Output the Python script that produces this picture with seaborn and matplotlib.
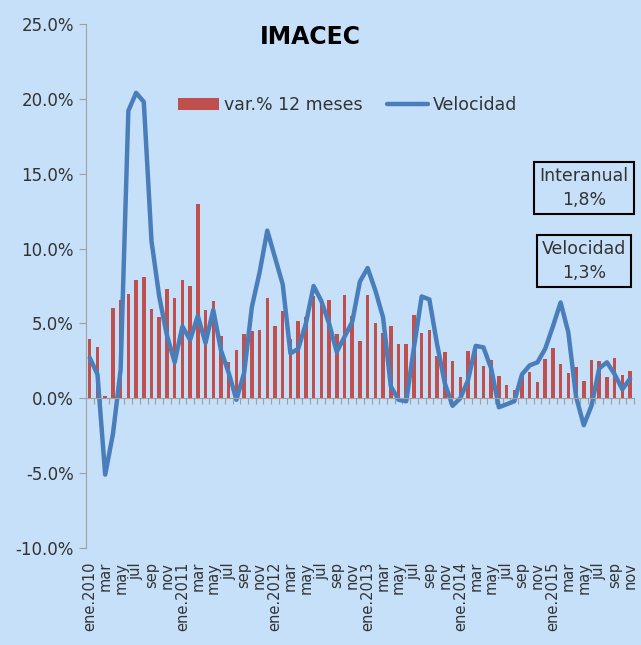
import numpy as np
import pandas as pd
import matplotlib
matplotlib.use('Agg')
import matplotlib.pyplot as plt
import seaborn as sns

# Meses (ene.2010 - nov.2015)
meses = ['ene', 'feb', 'mar', 'abr', 'may', 'jun', 'jul', 'ago', 'sep', 'oct', 'nov', 'dic']
anios = [2010, 2011, 2012, 2013, 2014, 2015]

# var.% 12 meses
var_12m = [3.93, 3.44, 0.13, 6.04, 6.58, 6.98, 7.93, 8.09, 5.98, 5.42, 7.33, 6.67,
           7.89, 7.47, 13.0, 5.91, 6.47, 4.13, 2.44, 3.24, 4.29, 4.47, 4.53, 6.67,
           4.82, 5.84, 3.93, 5.16, 5.42, 6.82, 6.31, 6.58, 4.27, 6.93, 5.49, 3.80,
           6.87, 5.02, 4.33, 4.82, 3.60, 3.60, 5.58, 4.33, 4.53, 2.82, 3.11, 2.49,
           1.40, 3.18, 3.27, 2.16, 2.56, 1.47, 0.87, 0.53, 1.51, 1.76, 1.07, 2.64,
           3.38, 2.29, 1.67, 2.09, 1.16, 2.58, 2.51, 1.40, 2.71, 1.53, 1.82]

# Velocidad
velocidad = [2.7, 1.6, -5.1, -2.4, 1.9, 19.2, 20.4, 19.8, 10.5, 6.8, 4.2, 2.4,
             4.8, 3.9, 5.5, 3.7, 5.9, 3.2, 1.7, -0.1, 1.7, 6.1, 8.4, 11.2,
             9.4, 7.6, 3.0, 3.3, 5.0, 7.5, 6.5, 5.0, 3.1, 4.1, 5.1, 7.8,
             8.7, 7.2, 5.4, 0.8, -0.1, -0.2, 3.4, 6.8, 6.6, 3.6, 1.0, -0.5,
             0.0, 1.2, 3.5, 3.4, 2.0, -0.6, -0.4, -0.2, 1.6, 2.2, 2.4, 3.3,
             4.8, 6.4, 4.4, 0.1, -1.8, -0.5, 2.0, 2.4, 1.6, 0.6, 1.31]

periodos = [f'{m}.{a}' for a in anios for m in meses][:len(var_12m)]
df = pd.DataFrame({'periodo': periodos, 'var': var_12m, 'vel': velocidad})
df['pos'] = np.arange(len(df))

bg = '#C6E0F9'
rojo = '#C0504D'
azul = '#4A7EBB'
gris = '#A0A0A0'
texto = '#333333'

sns.set_style('white')
plt.rcParams['font.family'] = ['DejaVu Sans']

fig = plt.figure(figsize=(6.41, 6.45), dpi=100, facecolor=bg)
ax = fig.add_axes([0.134, 0.1504, 0.855, 0.8124])
ax.set_facecolor(bg)

sns.barplot(data=df, x='pos', y='var', color=rojo, saturation=1, width=0.45,
            linewidth=0, label='var.% 12 meses', ax=ax)
sns.lineplot(data=df, x='pos', y='vel', color=azul, linewidth=3.2,
             label='Velocidad', ax=ax)

ax.set_xlim(-0.5, len(df) - 0.5)
ax.set_ylim(-10, 25)
ax.set_yticks(np.arange(-10, 26, 5))
ax.set_yticklabels([f'{v:.1f}%' for v in np.arange(-10, 26, 5)])
ax.tick_params(axis='y', direction='out', length=5, color=gris, labelsize=12,
               labelcolor=texto, left=True)

# eje de categorias cruzando en 0
for s in ['top', 'right']:
    ax.spines[s].set_visible(False)
ax.spines['left'].set_color(gris)
ax.spines['bottom'].set_color(gris)
ax.spines['bottom'].set_position(('data', 0))
ax.set_xticks(np.arange(len(df)) + 0.5)
ax.tick_params(axis='x', direction='out', length=4, color=gris,
               labelbottom=False, bottom=True)
ax.set_xlabel('')
ax.set_ylabel('')

# etiquetas de meses abajo
sec = ax.secondary_xaxis('bottom')
idx = df['pos'][::2]
etiquetas = [p if p.startswith('ene') else p.split('.')[0] for p in df['periodo'][::2]]
sec.set_xticks(idx)
sec.set_xticklabels(etiquetas, rotation=90, va='top', ha='center')
sec.tick_params(length=0, pad=10, labelsize=10.5, labelcolor=texto)
sec.spines['bottom'].set_visible(False)

fig.text(0.484, 0.943, 'IMACEC', ha='center', va='center', fontsize=17,
         fontweight='bold', color='black')

handles, labels = ax.get_legend_handles_labels()
orden = [labels.index('var.% 12 meses'), labels.index('Velocidad')]
ax.legend([handles[i] for i in orden], [labels[i] for i in orden],
          loc='center left', bbox_to_anchor=(0.253, 0.837),
          bbox_transform=fig.transFigure, ncol=2, frameon=False, fontsize=12.5,
          handlelength=2.4, handleheight=0.75, handletextpad=0.25,
          columnspacing=1.4, labelcolor=texto)

ult_var = f"{df['var'].iloc[-1]:.1f}".replace('.', ',')
ult_vel = f"{df['vel'].iloc[-1]:.1f}".replace('.', ',')
caja = dict(boxstyle='square,pad=0.3', facecolor='none', edgecolor='black', linewidth=1.5)
fig.text(0.911, 0.7085, f'Interanual\n{ult_var}%', ha='center', va='center',
         fontsize=12.5, color=texto, linespacing=1.4, bbox=caja)
fig.text(0.911, 0.595, f'Velocidad\n{ult_vel}%', ha='center', va='center',
         fontsize=12.5, color=texto, linespacing=1.4, bbox=caja)

fig.savefig('out.png', dpi=100, facecolor=bg)
